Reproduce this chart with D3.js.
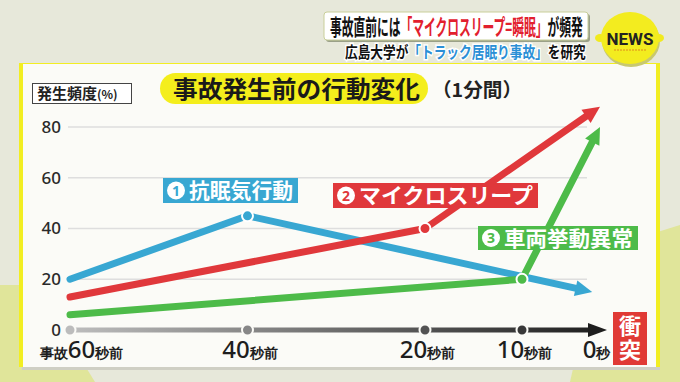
<!DOCTYPE html>
<html><head><meta charset="utf-8">
<script src="https://cdn.jsdelivr.net/npm/d3@7"></script>
<style>
html,body{margin:0;padding:0;background:#e7e8da;}
svg{display:block;font-family:"Noto Sans CJK JP","Noto Sans",sans-serif;}
</style></head>
<body>
<svg id="chart" width="680" height="382"></svg>
<script>
// ---- data ----
const xTicks = [60, 40, 20, 10, 0];
const xTickPre = ["事故", "", "", "", ""];
const xTickNum = ["60", "40", "20", "10", "0"];
const xTickSuf = ["秒前", "秒前", "秒前", "秒前", "秒"];
const yTicks = [0, 20, 40, 60, 80];
const seriesNames = ["抗眠気行動", "マイクロスリープ", "車両挙動異常"];
const seriesNums = ["1", "2", "3"];
const seriesColors = ["#38a7d2", "#e0383b", "#4dbb49"];
const blueSec = [60, 40, 1];
const blueVal = [20, 45, 15];
const redSec = [60, 20, 0];
const redVal = [13, 40, 88];
const greenSec = [60, 10, 0];
const greenVal = [6, 20, 80];
const markerIdx = [1, 1, 1]; // index of highlighted point in each series
const titleText = "事故発生前の行動変化";
const subTitle = "（1分間）";
const yLabel = "発生頻度";
const crashText = "衝突";
const headline1 = ["事故直前には", "「マイクロスリープ=瞬眠」", "が頻発"];
const headline2 = ["広島大学が", "「トラック居眠り事故」", "を研究"];

const svg = d3.select("#chart");

// ---- background ----
svg.append("rect").attr("width", 680).attr("height", 382).attr("fill", "#e7e8da");
svg.append("path").attr("d", "M0,285 L35,285 L95,382 L0,382 Z").attr("fill", "#dfe38a").attr("opacity", 0.8);
svg.append("path").attr("d", "M600,250 L680,225 L680,382 L570,382 Z").attr("fill", "#dfe38a").attr("opacity", 0.8);

// panel
svg.append("rect").attr("x", 22).attr("y", 66).attr("width", 638).attr("height", 304).attr("fill", "#cfcfc4");
svg.append("rect").attr("x", 19).attr("y", 63).attr("width", 641).attr("height", 304).attr("fill", "#f2ee22");
svg.append("rect").attr("x", 23).attr("y", 64).attr("width", 633).attr("height", 303).attr("fill", "#fbfbf7");

// ---- header ----
function fitText(sel, width) {
  const w = sel.node().getComputedTextLength();
  const x0 = +sel.attr("x"), y0 = +sel.attr("y");
  sel.attr("x", 0).attr("y", 0).attr("transform", `translate(${x0},${y0}) scale(${width / w},1)`);
}
const hb = svg.append("g");
hb.append("rect").attr("x", 326).attr("y", 14).attr("width", 264).attr("height", 28).attr("rx", 3).attr("fill", "#9aa088");
hb.append("rect").attr("x", 324).attr("y", 12).attr("width", 264).attr("height", 28).attr("rx", 3).attr("fill", "#ffffff").attr("stroke", "#c9cf9a");
const h1 = hb.append("text").attr("x", 330).attr("y", 35).attr("font-size", 22).attr("font-weight", 700);
h1.append("tspan").attr("fill", "#111").text(headline1[0]);
h1.append("tspan").attr("fill", "#e2202e").text(headline1[1]);
h1.append("tspan").attr("fill", "#111").text(headline1[2]);
fitText(h1, 253);
const h2 = hb.append("text").attr("x", 345).attr("y", 58).attr("font-size", 16).attr("font-weight", 700)
  .attr("stroke", "#ffffff").attr("stroke-width", 3).attr("paint-order", "stroke");
h2.append("tspan").attr("fill", "#111").text(headline2[0]);
h2.append("tspan").attr("fill", "#2b8fd6").text(headline2[1]);
h2.append("tspan").attr("fill", "#111").text(headline2[2]);
fitText(h2, 241);

// NEWS lemon
const lemon = svg.append("g");
lemon.append("ellipse").attr("cx", 630).attr("cy", 39).attr("rx", 29).attr("ry", 26).attr("fill", "#c8c870").attr("transform", "translate(1,2)");
lemon.append("ellipse").attr("cx", 600).attr("cy", 38).attr("rx", 5).attr("ry", 4).attr("fill", "#f1ea1e");
lemon.append("ellipse").attr("cx", 659).attr("cy", 38).attr("rx", 5).attr("ry", 4).attr("fill", "#f1ea1e");
lemon.append("ellipse").attr("cx", 630).attr("cy", 38).attr("rx", 29).attr("ry", 26).attr("fill", "#f3ec1f");
lemon.append("text").attr("x", 630).attr("y", 45).attr("text-anchor", "middle").attr("font-size", 17)
  .attr("font-weight", 700).attr("font-family", "Roboto, 'Noto Sans', sans-serif").attr("fill", "#222").text("NEWS");
lemon.append("line").attr("x1", 614).attr("x2", 646).attr("y1", 50).attr("y2", 50).attr("stroke", "#e08a1a").attr("stroke-width", 1.2).attr("stroke-dasharray", "2,1");

// ---- title ----
svg.append("rect").attr("x", 160).attr("y", 73).attr("width", 268).attr("height", 31).attr("rx", 15.5).attr("fill", "#f4ee1c");
svg.append("text").attr("x", 173).attr("y", 98).attr("font-size", 24).attr("font-weight", 700).attr("fill", "#1a1a1a")
  .attr("textLength", 247).attr("lengthAdjust", "spacingAndGlyphs").text(titleText);
svg.append("text").attr("x", 432).attr("y", 97).attr("font-size", 19).attr("font-weight", 700).attr("fill", "#222")
  .attr("textLength", 90).attr("lengthAdjust", "spacingAndGlyphs").text(subTitle);

// y label box
svg.append("rect").attr("x", 32.5).attr("y", 83.5).attr("width", 99).attr("height", 20).attr("fill", "#fff").attr("stroke", "#444").attr("stroke-width", 1);
const yl = svg.append("text").attr("x", 37).attr("y", 99).attr("font-weight", 700).attr("fill", "#222");
yl.append("tspan").attr("font-size", 15).text(yLabel);
yl.append("tspan").attr("font-size", 12).text("(%)");

// ---- scales ----
const x = d3.scaleLinear().domain([60, 20, 10, 0]).range([70, 425, 522, 600]);
const y = d3.scaleLinear().domain([0, 80]).range([330, 127]);

// grid
svg.append("g").selectAll("line").data(yTicks.filter(d => d > 0)).join("line")
  .attr("x1", 68).attr("x2", 587).attr("y1", d => y(d)).attr("y2", d => y(d))
  .attr("stroke", "#dedede").attr("stroke-width", 1.5);

// y axis
const yAxis = svg.append("g").attr("transform", "translate(61,0)")
  .call(d3.axisLeft(y).tickValues(yTicks).tickSize(0).tickPadding(0));
yAxis.select(".domain").remove();
yAxis.selectAll("text").attr("font-size", 17).attr("font-family", "'Noto Sans', 'DejaVu Sans', sans-serif")
  .attr("font-weight", 500).attr("fill", "#2a2a2a");

// x axis line with gradient
const defs = svg.append("defs");
const grad = defs.append("linearGradient").attr("id", "axg").attr("gradientUnits", "userSpaceOnUse")
  .attr("x1", x(60)).attr("x2", x(0)).attr("y1", 0).attr("y2", 0);
grad.append("stop").attr("offset", 0).attr("stop-color", "#bdbdbd");
grad.append("stop").attr("offset", 1).attr("stop-color", "#1e1e1e");
const y0 = y(0);
svg.append("line").attr("x1", x(60)).attr("x2", x(0) - 8).attr("y1", y0).attr("y2", y0)
  .attr("stroke", "url(#axg)").attr("stroke-width", 5);
svg.append("path").attr("d", `M${x(0) - 12},${y0 - 7} L${x(0) + 7},${y0} L${x(0) - 12},${y0 + 7} Z`).attr("fill", "#1e1e1e");
const dotColor = d3.scaleLinear().domain([60, 0]).range(["#bcbcbc", "#1e1e1e"]);
svg.append("g").selectAll("circle").data(xTicks.filter(d => d > 0)).join("circle")
  .attr("cx", d => x(d)).attr("cy", y0).attr("r", 5.5).attr("fill", d => dotColor(d))
  .attr("stroke", "#fbfbf7").attr("stroke-width", 2);

// x tick labels via axis
const xAxis = svg.append("g").attr("transform", `translate(0,${y0})`)
  .call(d3.axisBottom(x).tickValues(xTicks).tickSize(0).tickFormat(""));
xAxis.select(".domain").remove();
xAxis.selectAll(".tick text").each(function(d) {
  const i = xTicks.indexOf(d);
  const t = d3.select(this).attr("y", 28).attr("dy", 0).attr("fill", "#1e1e1e").attr("font-weight", 700)
    .attr("text-anchor", "middle").attr("dx", i === 0 ? 11 : (i === 4 ? -4 : 2));
  if (xTickPre[i]) t.append("tspan").attr("font-size", 14).text(xTickPre[i]);
  t.append("tspan").attr("font-size", 24).attr("font-weight", 500).attr("font-family", "'Noto Sans', sans-serif").text(xTickNum[i]);
  t.append("tspan").attr("font-size", 14).text(xTickSuf[i]);
});

// 衝突 box (vertical text)
svg.append("rect").attr("x", 613).attr("y", 312).attr("width", 34).attr("height", 53).attr("fill", "#e03a35");
svg.append("text").attr("x", 630).attr("y", 338.5).attr("text-anchor", "middle")
  .style("writing-mode", "vertical-rl").attr("letter-spacing", 2)
  .attr("font-size", 22).attr("font-weight", 700).attr("fill", "#fff").text(crashText);

// ---- series ----
const series = [
  {sec: blueSec, val: blueVal},
  {sec: redSec, val: redVal},
  {sec: greenSec, val: greenVal}
];
const lineGen = d3.line().x(d => d[0]).y(d => d[1]);
const labelBoxes = [
  {x: 163, y: 178, w: 135, h: 25},
  {x: 333, y: 183, w: 205, h: 25},
  {x: 478, y: 226, w: 160, h: 24}
];
labelBoxes.forEach((b, i) => {
  svg.append("rect").attr("x", b.x).attr("y", b.y).attr("width", b.w).attr("height", b.h).attr("fill", seriesColors[i]);
});

series.forEach((s, i) => {
  const pts = s.sec.map((d, j) => [x(d), y(s.val[j])]);
  const n = pts.length;
  const tip = pts[n - 1], prev = pts[n - 2];
  const ang = Math.atan2(tip[1] - prev[1], tip[0] - prev[0]);
  const L = 17, W = 8;
  const base = [tip[0] - L * Math.cos(ang), tip[1] - L * Math.sin(ang)];
  const linePts = pts.slice(0, n - 1).concat([[tip[0] - (L - 3) * Math.cos(ang), tip[1] - (L - 3) * Math.sin(ang)]]);
  svg.append("path").attr("d", lineGen(linePts)).attr("fill", "none").attr("stroke", seriesColors[i])
    .attr("stroke-width", 7).attr("stroke-linecap", "round").attr("stroke-linejoin", "round");
  const p1 = [base[0] + W * Math.sin(ang), base[1] - W * Math.cos(ang)];
  const p2 = [base[0] - W * Math.sin(ang), base[1] + W * Math.cos(ang)];
  svg.append("path").attr("d", `M${tip[0]},${tip[1]} L${p1[0]},${p1[1]} L${p2[0]},${p2[1]} Z`).attr("fill", seriesColors[i]);
  const m = pts[markerIdx[i]];
  svg.append("circle").attr("cx", m[0]).attr("cy", m[1]).attr("r", 5.5).attr("fill", seriesColors[i])
    .attr("stroke", "#fff").attr("stroke-width", 2);
});

labelBoxes.forEach((b, i) => {
  const cy = b.y + b.h / 2;
  svg.append("circle").attr("cx", b.x + 13).attr("cy", cy).attr("r", 9).attr("fill", "#fff");
  svg.append("text").attr("x", b.x + 13).attr("y", cy + 5).attr("text-anchor", "middle").attr("font-size", 14)
    .attr("font-weight", 700).attr("font-family", "'Noto Sans', sans-serif").attr("fill", seriesColors[i]).text(seriesNums[i]);
  svg.append("text").attr("x", b.x + 26).attr("y", cy + 7.5).attr("font-size", 21).attr("font-weight", 700)
    .attr("fill", "#fff").attr("textLength", b.w - 31).attr("lengthAdjust", "spacingAndGlyphs").text(seriesNames[i]);
});
</script>
</body></html>
